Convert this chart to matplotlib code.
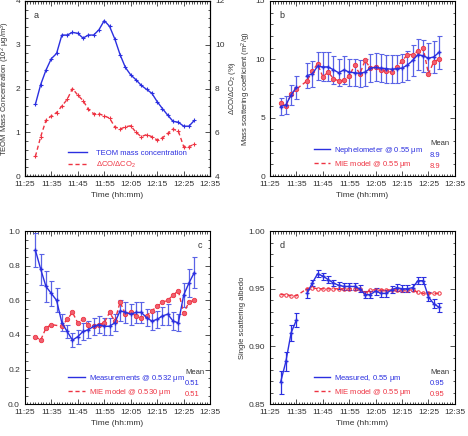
import matplotlib
matplotlib.use("Agg")
import matplotlib.pyplot as plt
import numpy as np
from matplotlib.ticker import MultipleLocator, FormatStrFormatter
from matplotlib.lines import Line2D

plt.rcParams['font.family'] = ['Liberation Sans', 'DejaVu Sans']
plt.rcParams['font.size'] = 6
plt.rcParams['mathtext.default'] = 'regular'

# time in minutes after 11:00, every 2 min from 11:29 to 12:29
t_all = list(range(29, 90, 2))
t_gap = [t for t in t_all if t != 37]          # 11:37 missing
xticks = [25, 35, 45, 55, 65, 75, 85, 95]
xticklabels = ['11:25', '11:35', '11:45', '11:55', '12:05', '12:15', '12:25', '12:35']

# panel a
teom = [1.64, 2.09, 2.42, 2.68, 2.80, 3.22, 3.22, 3.28, 3.26, 3.15, 3.22, 3.22, 3.34,
        3.55, 3.42, 3.13, 2.77, 2.48, 2.31, 2.20, 2.07, 1.98, 1.89, 1.70, 1.54, 1.39,
        1.25, 1.23, 1.14, 1.14, 1.27]
dco = [4.9, 5.8, 6.55, 6.75, 6.9, 7.2, 7.5, 8.0, 7.7, 7.45, 7.05, 6.85, 6.85, 6.75,
       6.65, 6.25, 6.15, 6.25, 6.3, 6.0, 5.8, 5.9, 5.8, 5.65, 5.75, 5.95, 6.15, 6.05,
       5.35, 5.35, 5.45]

# panel b
neph = [5.95, 6.1, 6.95, 7.6, np.nan, 8.6, 8.75, 9.4, 9.35, 9.35, 9.1, 8.85, 9.1, 8.9,
        8.85, 8.8, 8.9, 9.25, 9.3, 9.25, 9.2, 9.15, 9.2, 9.25, 9.5, 9.9, 10.4, 10.3,
        10.1, 10.2, 10.6]
neph_err = [0.75, 0.8, 0.85, 1.0, np.nan, 1.05, 1.1, 1.2, 1.25, 1.25, 1.2, 1.15, 1.2, 1.15,
            1.15, 1.15, 1.15, 1.2, 1.2, 1.2, 1.2, 1.2, 1.2, 1.2, 1.25, 1.3, 1.35, 1.35,
            1.3, 1.35, 1.4]
mie_b = [6.3, 6.0, 7.05, 7.45, 8.15, 9.0, 9.6, 8.5, 8.9, 8.35, 8.15, 8.2, 8.55, 9.5,
         8.75, 9.9, 9.25, 9.35, 9.05, 9.0, 8.9, 9.35, 9.85, 10.4, 10.4, 10.7, 10.95,
         8.75, 9.8, 10.0]

# panel c
absorb = [0.89, 0.78, 0.68, 0.64, 0.60, 0.47, 0.42, 0.37, 0.39, 0.42, 0.43, 0.45, 0.46,
          0.45, 0.45, 0.47, 0.54, 0.53, 0.52, 0.53, 0.53, 0.50, 0.48, 0.49, 0.51, 0.52,
          0.48, 0.47, 0.63, 0.70, 0.76]
absorb_err = [0.10, 0.09, 0.09, 0.07, 0.07, 0.05, 0.04, 0.04, 0.04, 0.05, 0.05, 0.05, 0.05,
              0.05, 0.05, 0.05, 0.06, 0.06, 0.06, 0.06, 0.06, 0.05, 0.05, 0.05, 0.05, 0.06,
              0.05, 0.05, 0.07, 0.08, 0.09]
mie_c = [0.39, 0.37, 0.44, 0.46, 0.45, 0.49, 0.53, 0.47, 0.49, 0.46, 0.45, 0.46, 0.47,
         0.53, 0.48, 0.59, 0.52, 0.53, 0.51, 0.50, 0.51, 0.54, 0.565, 0.59, 0.60, 0.63,
         0.655, 0.525, 0.59, 0.60]

# panel d
ssa = [0.869, 0.887, 0.912, 0.923, np.nan, 0.946, 0.955, 0.963, 0.961, 0.958, 0.955,
       0.953, 0.952, 0.952, 0.952, 0.950, 0.945, 0.945, 0.948, 0.946, 0.946, 0.949,
       0.951, 0.950, 0.950, 0.951, 0.957, 0.957, 0.943, 0.937, 0.934]
ssa_err = [0.010, 0.008, 0.007, 0.006, np.nan, 0.004, 0.003, 0.003, 0.003, 0.003, 0.003,
           0.003, 0.003, 0.003, 0.003, 0.003, 0.003, 0.003, 0.003, 0.003, 0.003, 0.003,
           0.003, 0.003, 0.003, 0.003, 0.003, 0.003, 0.004, 0.004, 0.004]
mie_d = [0.945, 0.945, 0.944, 0.944, 0.950, 0.951, 0.950, 0.950, 0.950, 0.950, 0.950,
         0.950, 0.950, 0.950, 0.950, 0.946, 0.949, 0.949, 0.949, 0.949, 0.949, 0.949,
         0.949, 0.949, 0.949, 0.947, 0.946, 0.946, 0.946, 0.946]

BLUE = '#2b2fe0'
EBLUE = '#5a63e6'
RED = '#ee3342'
GREY = '#333333'
FS = 5.5
DASH = (0, (3, 2))

fig = plt.figure(figsize=(4.68, 4.36), dpi=100)
ax_a = fig.add_axes([0.053, 0.596, 0.396, 0.402])
ax_b = fig.add_axes([0.577, 0.596, 0.395, 0.402])
ax_c = fig.add_axes([0.053, 0.073, 0.396, 0.397])
ax_d = fig.add_axes([0.577, 0.073, 0.395, 0.397])

h_blue = Line2D([], [], color=BLUE, lw=1)
h_red = Line2D([], [], color=RED, lw=1, ls=DASH)


def style(ax, ymin, ymax, ymaj, ymin_step, fmt, right=True):
    ax.set_xlim(25, 95)
    ax.set_ylim(ymin, ymax)
    ax.set_xticks(xticks)
    ax.set_xticklabels(xticklabels)
    ax.xaxis.set_minor_locator(MultipleLocator(1))
    ax.yaxis.set_major_locator(MultipleLocator(ymaj))
    ax.yaxis.set_minor_locator(MultipleLocator(ymin_step))
    ax.yaxis.set_major_formatter(FormatStrFormatter(fmt))
    ax.tick_params(which='both', direction='in', top=True, right=right, colors=GREY,
                   labelsize=FS + 0.5, width=0.6)
    ax.tick_params(which='major', length=3.5)
    ax.tick_params(which='minor', length=1.8)
    for s in ax.spines.values():
        s.set_linewidth(0.8)
    ax.set_xlabel('Time (hh:mm)', fontsize=FS + 0.5, color=GREY, labelpad=3)


# ---- a
style(ax_a, 0, 4, 1, 0.2, '%d', right=False)
ax_a.plot(t_all, teom, color=BLUE, lw=1, marker='+', ms=2.5, mew=0.8)
ax_a.set_ylabel('TEOM Mass Concentration (10$^2$ $\\mu$g/m$^3$)', fontsize=FS, labelpad=2,
                color=GREY)
ax_a2 = ax_a.twinx()
ax_a2.set_ylim(4, 12)
ax_a2.yaxis.set_major_locator(MultipleLocator(2))
ax_a2.yaxis.set_minor_locator(MultipleLocator(0.4))
ax_a2.tick_params(which='both', direction='in', labelsize=FS + 0.5, colors=GREY, width=0.6)
ax_a2.tick_params(which='major', length=3.5)
ax_a2.tick_params(which='minor', length=1.8)
ax_a2.plot(t_all, dco, color=RED, lw=1, ls=DASH, marker='+', ms=2.5, mew=0.8)
ax_a2.set_ylabel('$\\Delta$CO/$\\Delta$CO$_2$ (%)', fontsize=FS, labelpad=2, color=GREY)
ax_a.legend([h_blue, h_red], ['TEOM mass concentration', '$\\Delta$CO/$\\Delta$CO$_2$'],
            loc='lower left', bbox_to_anchor=(0.2, 0.0), frameon=False, fontsize=FS,
            handlelength=2.4, handletextpad=1.2, labelcolor=[BLUE, RED], borderpad=0.35,
            labelspacing=0.35)
ax_a.text(0.05, 0.94, 'a', transform=ax_a.transAxes, fontsize=6.5, color=GREY, va='top')


def mean_legend(ax, lab1, lab2, m1, m2):
    ax.legend([h_blue, h_red], [lab1, lab2], loc='lower left', bbox_to_anchor=(0.2, 0.0),
              frameon=False, fontsize=FS, handlelength=2.2, handletextpad=0.5,
              labelcolor=[BLUE, RED], borderpad=0.35, labelspacing=0.35)
    ax.text(0.865, 0.175, 'Mean', transform=ax.transAxes, fontsize=FS, color=GREY)
    ax.text(0.865, 0.108, m1, transform=ax.transAxes, fontsize=FS, color=BLUE)
    ax.text(0.865, 0.045, m2, transform=ax.transAxes, fontsize=FS, color=RED)


# ---- b
style(ax_b, 0, 15, 5, 1, '%d')
ax_b.errorbar(t_all, neph, yerr=neph_err, color=BLUE, ecolor=EBLUE, lw=1, elinewidth=0.9,
              capsize=1.8, capthick=0.8, marker='+', ms=2.5)
ax_b.plot(t_gap, mie_b, color=RED, lw=1, ls=DASH, marker='o', ms=3.2,
          mfc='#f06070', mec=RED, mew=0.6)
ax_b.set_ylabel('Mass scattering coefficient (m$^2$/g)', fontsize=FS, labelpad=2, color=GREY)
ax_b.text(0.05, 0.94, 'b', transform=ax_b.transAxes, fontsize=6.5, color=GREY, va='top')
mean_legend(ax_b, 'Nephelometer @ 0.55 $\\mu$m', 'MIE model @ 0.55 $\\mu$m', '8.9', '8.9')

# ---- c
style(ax_c, 0, 1.0, 0.2, 0.05, '%.1f')
ax_c.errorbar(t_all, absorb, yerr=absorb_err, color=BLUE, ecolor=EBLUE, lw=1, elinewidth=0.9,
              capsize=1.8, capthick=0.8, marker='+', ms=2.5)
ax_c.plot(t_gap, mie_c, color=RED, lw=1, ls=DASH, marker='o', ms=3.2,
          mfc='#f06070', mec=RED, mew=0.6)
ax_c.set_ylabel('Mass absorption coefficient (m$^2$/g)', fontsize=FS, labelpad=2, color=GREY)
ax_c.text(0.93, 0.94, 'c', transform=ax_c.transAxes, fontsize=6.5, color=GREY, va='top')
mean_legend(ax_c, 'Measurements @ 0.532 $\\mu$m', 'MIE model @ 0.530 $\\mu$m', '0.51', '0.51')

# ---- d
style(ax_d, 0.85, 1.0, 0.05, 0.01, '%.2f')
ax_d.errorbar(t_all, ssa, yerr=ssa_err, color=BLUE, ecolor=BLUE, lw=1, elinewidth=0.9,
              capsize=1.8, capthick=0.8, marker='+', ms=2.5)
ax_d.plot(t_gap, mie_d, color=RED, lw=1, ls=DASH, marker='o', ms=2.5,
          mfc='none', mec=RED, mew=0.7)
ax_d.set_ylabel('Single scattering albedo', fontsize=FS, labelpad=2, color=GREY)
ax_d.text(0.05, 0.94, 'd', transform=ax_d.transAxes, fontsize=6.5, color=GREY, va='top')
mean_legend(ax_d, 'Measured, 0.55 $\\mu$m', 'MIE model @ 0.55 $\\mu$m', '0.95', '0.95')

fig.savefig('out.png', dpi=100)
